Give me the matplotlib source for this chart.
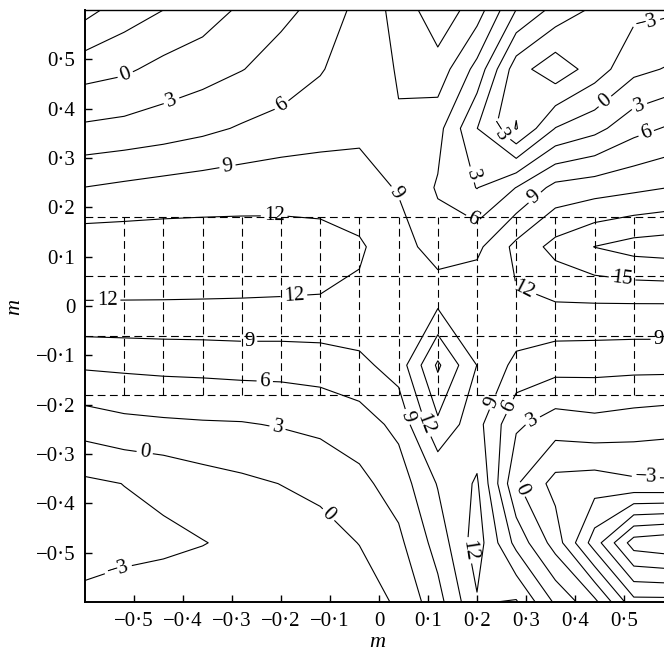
import matplotlib
matplotlib.use("Agg")
import matplotlib.pyplot as plt
import matplotlib.ticker as ticker
import numpy as np

plt.rcParams.update({
    "font.family": "serif",
    "font.serif": ["Liberation Serif", "DejaVu Serif"],
    "font.size": 15,
    "axes.linewidth": 1.4,
})

# grid nodes of the sampled surface
x_nodes = [-0.60, -0.52, -0.44, -0.36, -0.28, -0.20, -0.12, -0.04,
           0.04, 0.12, 0.20, 0.28, 0.36, 0.44, 0.52, 0.60]
y_nodes = [0.60, 0.48, 0.36, 0.24, 0.12, 0.00,
           -0.12, -0.24, -0.36, -0.48, -0.60]

# surface values, one row per y node (top row first)
z_p060 = [-7.0, -4.5, -3.0, -1.5, 0.5, 2.3, 3.8, 7.0, 10.0, 14.0, 10.5, 2.95, -1.0, -3.6, -3.8, -3.4]
z_p048 = [-1.2, -0.5, 0.9, 1.8, 2.9, 4.2, 5.8, 7.5, 9.2, 10.8, 5.0, -4.7, -8.0, -4.55, -0.8, 0.4]
z_p036 = [3.5, 3.9, 4.5, 5.3, 6.3, 7.05, 7.6, 8.2, 8.8, 7.0, 0.05, -6.2, 0.1, 2.05, 5.0, 6.5]
z_p024 = [9.05, 9.6, 10.1, 10.5, 10.8, 11.05, 11.1, 10.6, 8.7, 5.7, 2.9, 6.05, 9.9, 10.6, 11.3, 12.1]
z_p012 = [13.9, 13.8, 13.7, 13.5, 13.3, 13.05, 12.8, 12.3, 10.6, 7.3, 8.3, 12.8, 16.0, 18.05, 19.2, 19.6]
z_p000 = [11.8, 11.8, 11.8, 11.8, 11.8, 11.8, 11.8, 11.5, 11.05, 11.7, 11.5, 11.6, 11.7, 11.7, 11.7, 11.7]
z_m012 = [6.4, 6.6, 6.8, 6.9, 7.1, 7.1, 7.3, 8.2, 10.3, 18.5, 11.95, 8.2, 7.15, 7.05, 6.9, 6.9]
z_m024 = [1.4, 2.2, 2.5, 2.7, 2.8, 3.2, 3.8, 4.6, 6.8, 14.4, 10.05, 3.5, 1.5, 2.05, 1.5, 1.05]
z_m036 = [-3.6, -2.95, -2.3, -1.3, -0.6, 0.05, 0.5, 2.2, 4.4, 9.2, 12.4, 0.3, -4.05, -4.5, -3.6, -3.4]
z_m048 = [-4.05, -4.05, -3.6, -3.1, -2.4, -1.8, -0.8, 0.05, 2.3, 7.2, 13.5, 5.05, -1.3, -10.5, -19.5, -20.5]
z_m060 = [-2.4, -1.5, -1.4, -1.2, -1.1, -1.05, -1.05, -1.05, 0.3, 4.9, 11.7, 12.3, 5.5, 0.8, -8.05, -8.05]

levels = [-18, -15, -12, -9, -6, -3, 0, 3, 6, 9, 12, 15, 18]

# dashed sampling boxes
box_rows = [0.18, 0.06, -0.06, -0.18]
box_cols = [-0.52, -0.44, -0.36, -0.28, -0.20, -0.12, -0.04,
            0.04, 0.12, 0.20, 0.28, 0.36, 0.44, 0.52]

# where the contour labels sit
label_pos = [
    (-0.518, 0.469), (-0.422, 0.412), (-0.198, 0.406), (-0.308, 0.276),
    (-0.214, 0.192), (-0.555, 0.010), (-0.173, 0.010), (0.035, 0.229),
    (0.245, 0.355), (0.184, 0.265), (0.196, 0.182), (0.316, 0.222),
    (0.455, 0.422), (0.531, 0.406), (0.545, 0.351), (0.547, 0.569),
    (0.496, 0.055), (0.290, 0.020), (-0.265, -0.078), (-0.233, -0.149),
    (-0.208, -0.251), (-0.478, -0.296), (-0.531, -0.537), (-0.100, -0.420),
    (0.051, -0.227), (0.092, -0.241), (0.235, -0.196), (0.267, -0.204),
    (0.316, -0.237), (0.288, -0.373), (0.545, -0.337), (0.180, -0.496),
    (0.571, -0.067),
]

tick_vals = [-0.5, -0.4, -0.3, -0.2, -0.1, 0.0, 0.1, 0.2, 0.3, 0.4, 0.5]


def dot_fmt(v, _):
    if abs(v) < 1e-9:
        return "0"
    s = f"{abs(v):.1f}".replace(".", "\u00b7")
    return ("\u2212" + s) if v < 0 else s


def level_fmt(v):
    return f"{v:.0f}".replace("-", "\u2212")


z = np.array([z_p060, z_p048, z_p036, z_p024, z_p012, z_p000,
              z_m012, z_m024, z_m036, z_m048, z_m060])[::-1]
y_up = y_nodes[::-1]

fig = plt.figure(figsize=(6.64, 6.54), dpi=100)
ax = fig.add_axes([85 / 664, 52 / 654, 588 / 664, 592 / 654])

cs = ax.contour(x_nodes, y_up, z, levels=levels, colors="black",
                linewidths=0.8, linestyles="solid")
ax.set_xlim(-0.6, 0.6)
ax.set_ylim(-0.6, 0.6)

ax.hlines(box_rows, -0.6, 0.6, colors="black", linewidth=0.8,
          linestyles=(0, (7, 4)))
ax.vlines(box_cols, box_rows[-1], box_rows[0], colors="black", linewidth=0.8,
          linestyles=(0, (7, 4)))

ax.clabel(cs, manual=label_pos, inline=True, inline_spacing=3,
          fontsize=15, fmt=level_fmt)

ax.set_xticks(tick_vals)
ax.set_yticks(tick_vals)
ax.xaxis.set_major_formatter(ticker.FuncFormatter(dot_fmt))
ax.yaxis.set_major_formatter(ticker.FuncFormatter(dot_fmt))
ax.tick_params(direction="in", length=5, width=1, labelsize=15, pad=7,
               top=False, right=False)
ax.spines["top"].set_linewidth(1.0)

fig.text(377 / 664, (654 - 647) / 654, "m", style="italic", fontsize=16,
         ha="center", va="baseline")
fig.text(15 / 664, (654 - 307) / 654, "m", style="italic", fontsize=16,
         rotation=90, ha="center", va="center")

fig.savefig("out.png", dpi=100)
plt.close(fig)
